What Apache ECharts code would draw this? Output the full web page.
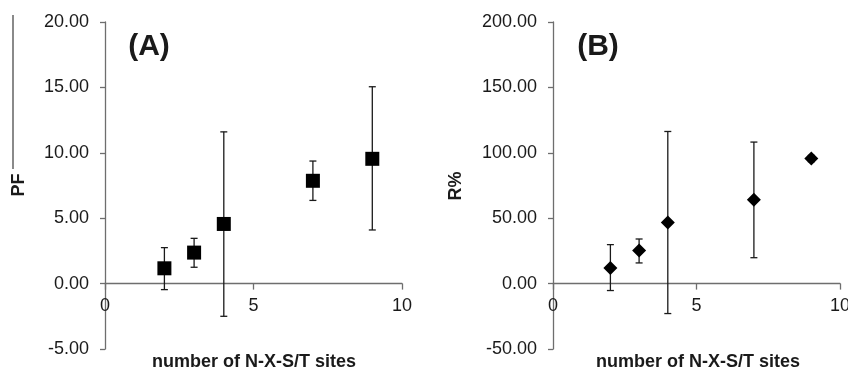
<!DOCTYPE html>
<html>
<head>
<meta charset="utf-8">
<script src="https://cdn.jsdelivr.net/npm/echarts@6/dist/echarts.min.js"></script>
<style>
html,body{margin:0;padding:0;background:#fff;}
#c{width:848px;height:370px;}
</style>
</head>
<body>
<div id="c"></div>
<script>
// Data
var sites = [2, 3, 4, 7, 9];
var pfMean = [1.17, 2.37, 4.56, 7.86, 9.54];
var pfHigh = [2.75, 3.46, 11.6, 9.37, 15.05];
var pfLow  = [-0.46, 1.25, -2.5, 6.36, 4.1];
var rMean  = [12.0, 25.4, 46.8, 64.1, 95.6];
var rHigh  = [29.8, 34.1, 116.3, 108.2, 98.0];
var rLow   = [-5.3, 15.8, -22.9, 19.8, 93.2];
var yTicksA = [-5, 0, 5, 10, 15, 20];
var yTicksB = [-50, 0, 50, 100, 150, 200];
var xTicks = [0, 5, 10];

var FONT = '"Liberation Sans", Arial, sans-serif';
var AXIS_COLOR = '#6e6e6e';
var TEXT_COLOR = '#1a1a1a';

function pts(xs, ys){ return xs.map(function(x,i){ return [x, ys[i]]; }); }
function errs(xs, lo, hi){ return xs.map(function(x,i){ return [x, lo[i], hi[i]]; }); }

function errRender(params, api){
  var x = api.value(0);
  var p1 = api.coord([x, api.value(1)]);
  var p2 = api.coord([x, api.value(2)]);
  var w = 3.5;
  var st = {stroke:'#1a1a1a', lineWidth:1.3};
  return {type:'group', children:[
    {type:'line', shape:{x1:p1[0],y1:p1[1],x2:p2[0],y2:p2[1]}, style:st},
    {type:'line', shape:{x1:p1[0]-w,y1:p1[1],x2:p1[0]+w,y2:p1[1]}, style:st},
    {type:'line', shape:{x1:p2[0]-w,y1:p2[1],x2:p2[0]+w,y2:p2[1]}, style:st}
  ]};
}

function xAxisCfg(gi, off){
  return {
    type:'value', gridIndex:gi, min:xTicks[0], max:xTicks[xTicks.length-1], interval:5,
    position:'bottom', offset:off || 0,
    axisLine:{onZero:false, lineStyle:{color:AXIS_COLOR, width:1.3}},
    axisTick:{show:true, inside:false, length:6, lineStyle:{color:AXIS_COLOR, width:1.3}},
    axisLabel:{color:TEXT_COLOR, fontSize:18, fontFamily:FONT, margin:13, showMinLabel:true, showMaxLabel:true},
    splitLine:{show:false}
  };
}
function yAxisCfg(gi, ticks){
  return {
    type:'value', gridIndex:gi, min:ticks[0], max:ticks[ticks.length-1], interval:ticks[1]-ticks[0],
    axisLine:{show:true, onZero:false, lineStyle:{color:AXIS_COLOR, width:1.3}},
    axisTick:{show:true, length:5, lineStyle:{color:AXIS_COLOR, width:1.3}},
    axisLabel:{color:TEXT_COLOR, fontSize:18, fontFamily:FONT, margin:16,
      formatter:function(v){ return v.toFixed(2); }},
    splitLine:{show:false}
  };
}

var chart = echarts.init(document.getElementById('c'), null, {renderer:'canvas'});
var option = {
  animation:false,
  backgroundColor:'#fff',
  grid:[
    {left:105, top:22, width:297, height:327, outerBoundsMode:'none', containLabel:false},
    {left:553, top:22, width:287, height:327, outerBoundsMode:'none', containLabel:false}
  ],
  xAxis:[xAxisCfg(0), xAxisCfg(1)],
  yAxis:[yAxisCfg(0, yTicksA), yAxisCfg(1, yTicksB)],
  graphic:[
    {type:'line', shape:{x1:13,y1:15,x2:13,y2:169}, style:{stroke:'#8a8a8a', lineWidth:2}},
    {type:'text', x:149, y:47, style:{text:'(A)', font:'bold 30px '+FONT, fill:TEXT_COLOR, textAlign:'center', textVerticalAlign:'middle'}},
    {type:'text', x:598, y:47, style:{text:'(B)', font:'bold 30px '+FONT, fill:TEXT_COLOR, textAlign:'center', textVerticalAlign:'middle'}},
    {type:'text', x:19, y:185, rotation:Math.PI/2, style:{text:'PF', font:'bold 18px '+FONT, fill:TEXT_COLOR, textAlign:'center', textVerticalAlign:'middle'}},
    {type:'text', x:456, y:186, rotation:Math.PI/2, style:{text:'R%', font:'bold 18px '+FONT, fill:TEXT_COLOR, textAlign:'center', textVerticalAlign:'middle'}},
    {type:'text', x:254, y:362, style:{text:'number of N-X-S/T sites', font:'bold 18px '+FONT, fill:TEXT_COLOR, textAlign:'center', textVerticalAlign:'middle'}},
    {type:'text', x:698, y:362, style:{text:'number of N-X-S/T sites', font:'bold 18px '+FONT, fill:TEXT_COLOR, textAlign:'center', textVerticalAlign:'middle'}}
  ],
  series:[
    {type:'custom', xAxisIndex:0, yAxisIndex:0, renderItem:errRender, data:errs(sites,pfLow,pfHigh), z:2},
    {type:'scatter', xAxisIndex:0, yAxisIndex:0, symbol:'rect', symbolSize:14, itemStyle:{color:'#000', opacity:1}, data:pts(sites,pfMean), z:3},
    {type:'custom', xAxisIndex:1, yAxisIndex:1, renderItem:errRender, data:errs(sites,rLow,rHigh), z:2},
    {type:'scatter', xAxisIndex:1, yAxisIndex:1, symbol:'diamond', symbolSize:14, itemStyle:{color:'#000', opacity:1}, data:pts(sites,rMean), z:3}
  ]
};
chart.setOption(option);
// Move each x axis up to the y = 0 line, using the library's own scales
function zeroOffset(gi, yMin){
  var yZero = chart.convertToPixel({gridIndex:gi}, [0, 0])[1];
  var yBottom = chart.convertToPixel({gridIndex:gi}, [0, yMin])[1];
  return -(yBottom - yZero);
}
chart.setOption({xAxis:[
  {offset: zeroOffset(0, yTicksA[0])},
  {offset: zeroOffset(1, yTicksB[0])}
]});
</script>
</body>
</html>
